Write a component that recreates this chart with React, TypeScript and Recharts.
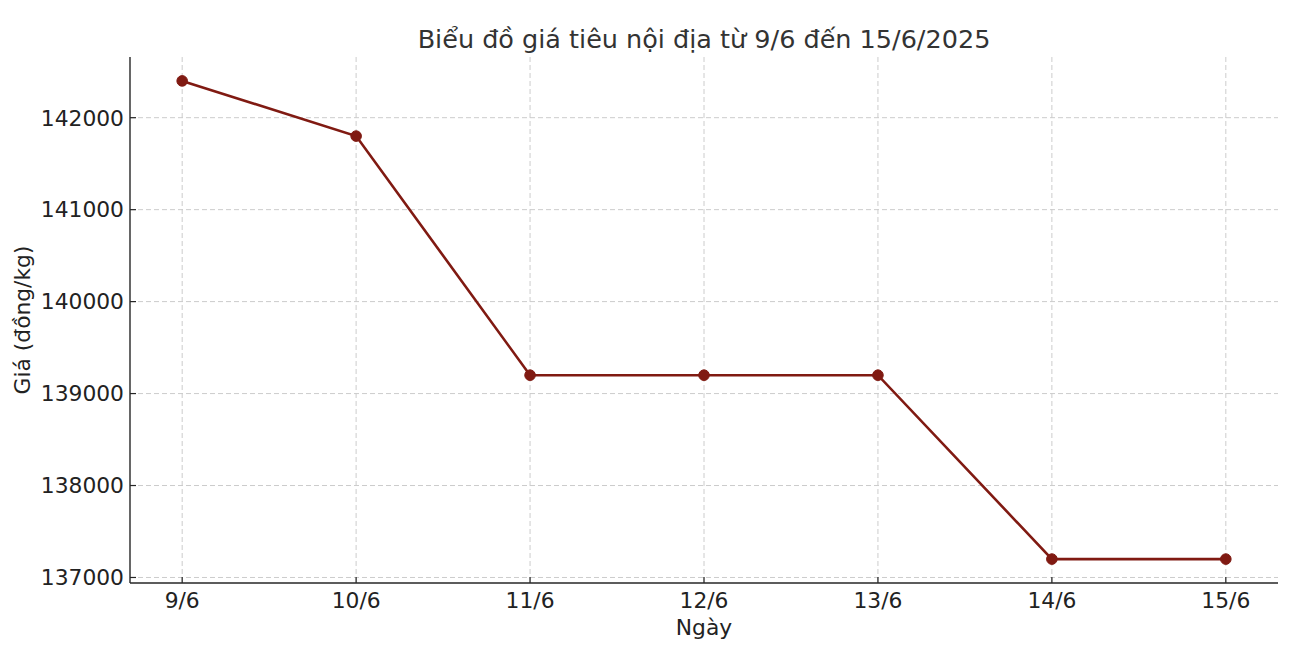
import React from "react";
import { LineChart, Line, XAxis, YAxis, CartesianGrid } from "recharts";

const dates = ["9/6", "10/6", "11/6", "12/6", "13/6", "14/6", "15/6"];
const prices = [142400, 141800, 139200, 139200, 139200, 137200, 137200];
const yTicks = [137000, 138000, 139000, 140000, 141000, 142000];
const xTicks = [0, 1, 2, 3, 4, 5, 6];

const data = dates.map((d, i) => ({ x: i, label: d, price: prices[i] }));

const FONT = "'DejaVu Sans', sans-serif";
const LINE = "#801a12";
const AXIS = "#262626";
const FS = 21.8;

const YTick = (props: any) => {
  const { x, y, payload } = props;
  return (
    <g>
      <line x1={x} y1={y} x2={x + 6} y2={y} stroke={AXIS} strokeWidth={1.2} />
      <text x={x - 6} y={y} dy="0.36em" textAnchor="end" fontSize={FS} fill="#222" fontFamily={FONT}>
        {payload.value}
      </text>
    </g>
  );
};

const XTick = (props: any) => {
  const { x, y, payload } = props;
  return (
    <g>
      <line x1={x} y1={y} x2={x} y2={y - 6} stroke={AXIS} strokeWidth={1.2} />
      <text x={x} y={y + 25} textAnchor="middle" fontSize={FS} fill="#222" fontFamily={FONT}>
        {dates[payload.value]}
      </text>
    </g>
  );
};

const YLabel = (props: any) => {
  const vb = props.viewBox || {};
  const cy = (vb.y || 0) + (vb.height || 0) / 2;
  return (
    <text
      x={14}
      y={cy}
      dy="0.36em"
      textAnchor="middle"
      transform={`rotate(-90, 14, ${cy})`}
      fontSize={FS}
      fill="#222"
      fontFamily={FONT}
    >
      Giá (đồng/kg)
    </text>
  );
};

const XLabel = (props: any) => {
  const vb = props.viewBox || {};
  const cx = (vb.x || 0) + (vb.width || 0) / 2;
  return (
    <text x={cx} y={627} textAnchor="middle" fontSize={FS} fill="#222" fontFamily={FONT}>
      Ngày
    </text>
  );
};

export default function App() {
  return (
    <div style={{ width: 1290, height: 642, position: "relative", fontFamily: FONT }}>
      <LineChart
        width={1290}
        height={642}
        data={data}
        margin={{ top: 49, right: 20, bottom: 0, left: 0 }}
      >
        <CartesianGrid stroke="#cccccc" strokeDasharray="5 3" strokeWidth={1} syncWithTicks />
        <XAxis
          dataKey="x"
          type="number"
          domain={[-0.3, 6.3]}
          ticks={xTicks}
          allowDataOverflow
          tickSize={0}
          tickMargin={0}
          tickLine={false}
          tick={<XTick />}
          stroke={AXIS}
          strokeWidth={1.4}
          height={67}
          label={<XLabel />}
        />
        <YAxis
          type="number"
          domain={[136940, 142660]}
          ticks={yTicks}
          allowDataOverflow
          tickSize={0}
          tickMargin={0}
          tickLine={false}
          tick={<YTick />}
          stroke={AXIS}
          strokeWidth={1.4}
          width={122}
          label={<YLabel />}
        />
        <Line
          type="linear"
          dataKey="price"
          stroke={LINE}
          strokeWidth={2.6}
          dot={{ r: 5.3, fill: LINE, stroke: LINE, strokeWidth: 1 }}
          isAnimationActive={false}
        />
      </LineChart>
      <div
        style={{
          position: "absolute",
          top: 16,
          left: 122,
          width: 1148,
          textAlign: "center",
          fontSize: 25.5,
          lineHeight: "30px",
          color: "#333",
          fontFamily: FONT,
        }}
      >
        Biểu đồ giá tiêu nội địa từ 9/6 đến 15/6/2025
      </div>
    </div>
  );
}
